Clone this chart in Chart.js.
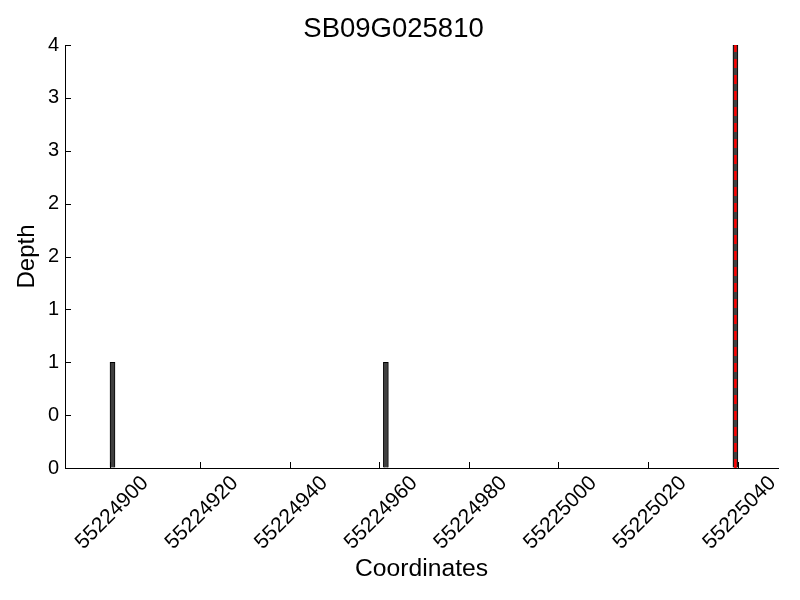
<!DOCTYPE html>
<html><head><meta charset="utf-8">
<script src="https://cdn.jsdelivr.net/npm/chart.js@4"></script>
<style>html,body{margin:0;padding:0;background:#fff}</style>
</head><body>
<canvas id="c" width="800" height="600"></canvas>
<script>
const positions = [55224900, 55224961, 55225039];
const depths = [1, 1, 4];
const highlightPositions = [55225039];
const xTickValues = [55224900, 55224920, 55224940, 55224960, 55224980, 55225000, 55225020, 55225040];
const yTickValues = [0, 0.5, 1, 1.5, 2, 2.5, 3, 3.5, 4];
const yTickLabels = ['0', '0', '1', '1', '2', '2', '3', '3', '4'];
const titleText = 'SB09G025810';
const xTitle = 'Coordinates';
const yTitle = 'Depth';
const xMin = 55224889.9, xMax = 55225049.0;
const yMin = 0, yMax = 4;

const FAM = '"Liberation Sans", Arial, Helvetica, sans-serif';

const barData = positions.map((p, i) => ({ x: p + 0.5, y: depths[i] }));
const hlDatasets = highlightPositions.map(p => ({
  type: 'line',
  data: [{ x: p + 0.5, y: yMin }, { x: p + 0.5, y: yMax }],
  borderColor: '#ff0000',
  borderWidth: 2.5,
  borderDash: [9, 7],
  pointRadius: 0,
  fill: false,
  order: 0
}));

const inwardTicks = {
  id: 'inwardTicks',
  afterDraw(chart) {
    const ctx = chart.ctx, a = chart.chartArea;
    const xs = chart.scales.x, ys = chart.scales.y;
    const L = 6;
    ctx.save();
    ctx.strokeStyle = '#000';
    ctx.lineWidth = 1;
    ctx.beginPath();
    xs.ticks.forEach(t => {
      const px = Math.round(xs.getPixelForValue(t.value)) + 0.5;
      ctx.moveTo(px, a.bottom);
      ctx.lineTo(px, a.bottom - L);
    });
    ys.ticks.forEach(t => {
      const py = Math.round(ys.getPixelForValue(t.value)) + 0.5;
      ctx.moveTo(a.left, py);
      ctx.lineTo(a.left + L, py);
    });
    ctx.stroke();
    ctx.restore();
  }
};

new Chart(document.getElementById('c'), {
  type: 'bar',
  data: {
    datasets: [
      ...hlDatasets,
      {
        type: 'bar',
        data: barData,
        backgroundColor: '#404040',
        borderColor: '#000000',
        borderWidth: 1,
        barThickness: 5,
        order: 1
      }
    ]
  },
  options: {
    responsive: false,
    animation: false,
    devicePixelRatio: 1,
    layout: { padding: { left: 9, right: 22, top: 0, bottom: 12 } },
    plugins: {
      legend: { display: false },
      tooltip: { enabled: false },
      title: {
        display: true,
        text: titleText,
        color: '#000',
        font: { family: FAM, size: 27.5, weight: 'normal' },
        padding: { top: 13, bottom: -1 }
      }
    },
    scales: {
      x: {
        type: 'linear',
        offset: false,
        min: xMin,
        max: xMax,
        afterBuildTicks: s => { s.ticks = xTickValues.map(v => ({ value: v })); },
        ticks: {
          autoSkip: false,
          minRotation: 45,
          maxRotation: 45,
          labelOffset: 35,
          padding: 3,
          color: '#000',
          font: { family: FAM, size: 21 },
          callback: v => String(v)
        },
        grid: { display: true, offset: false, drawOnChartArea: false, drawTicks: false },
        border: { display: true, color: '#000', width: 1 },
        title: { display: true, text: xTitle, color: '#000', font: { family: FAM, size: 24.7 }, padding: { top: 4, bottom: 4 } },
        afterFit: s => { s.height = 120; }
      },
      y: {
        type: 'linear',
        min: yMin,
        max: yMax,
        afterBuildTicks: s => { s.ticks = yTickValues.map(v => ({ value: v })); },
        ticks: {
          padding: 6,
          color: '#000',
          font: { family: FAM, size: 20 },
          callback: (v, i) => yTickLabels[i]
        },
        grid: { display: true, drawOnChartArea: false, drawTicks: false },
        border: { display: true, color: '#000', width: 1 },
        title: { display: true, text: yTitle, color: '#000', font: { family: FAM, size: 24 }, padding: { top: 4, bottom: 4 } },
        afterFit: s => { s.width = 56; }
      }
    }
  },
  plugins: [inwardTicks]
});
</script>
</body></html>
